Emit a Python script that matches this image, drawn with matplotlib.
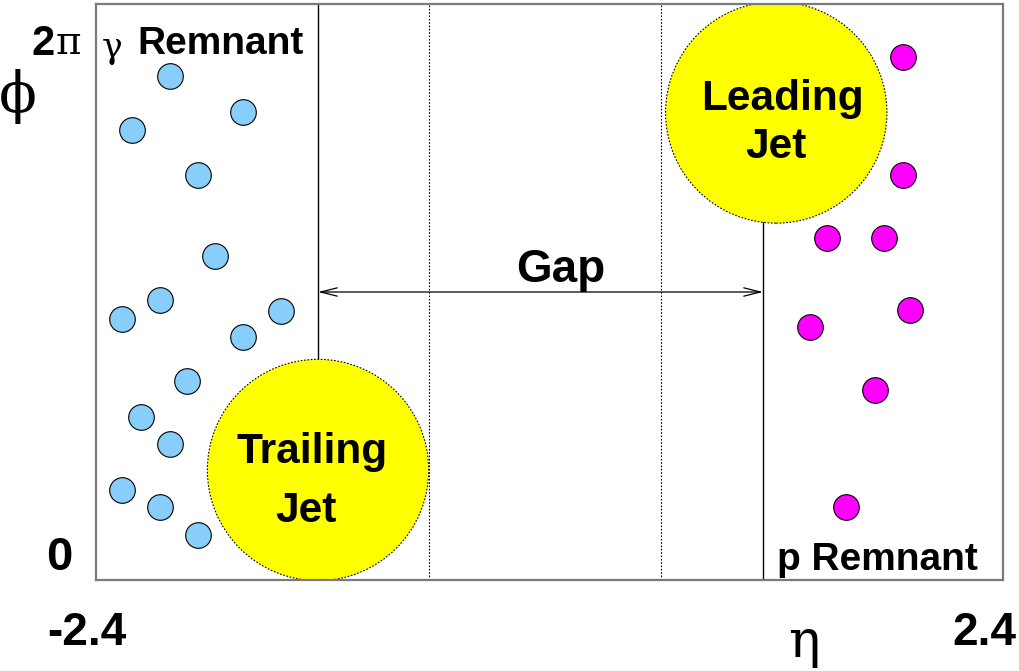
import numpy as np
import matplotlib
matplotlib.use("Agg")
import matplotlib.pyplot as plt

# ---- data (eta, phi) ----
gamma_eta = [-2.01, -1.62, -2.21, -1.86, -1.77, -2.06, -1.42, -2.26, -1.62, -1.92, -2.16, -2.01, -2.26, -2.06, -1.86]
gamma_phi = [5.50, 5.10, 4.91, 4.42, 3.53, 3.05, 2.93, 2.85, 2.65, 2.17, 1.78, 1.48, 0.98, 0.80, 0.49]
p_eta = [1.87, 1.87, 1.47, 1.77, 1.91, 1.38, 1.72, 1.57]
p_phi = [5.71, 4.42, 3.73, 3.73, 2.95, 2.76, 2.07, 0.80]
jet_labels = [["Trailing", "Jet"], ["Leading", "Jet"]]
jet_eta = [-1.225, 1.20]
jet_phi = [1.20, 5.10]
gap_edges = [-1.225, 1.13]
dotted_eta = [-0.64, 0.59]
eta_range = [-2.4, 2.4]
phi_range = [0, 2 * np.pi]

W, H = 1019, 671
fig = plt.figure(figsize=(W / 100, H / 100), dpi=100)
ax = fig.add_axes([96 / W, 1 - 580 / H, 907 / W, 576 / H])
ax.set_xlim(*eta_range)
ax.set_ylim(*phi_range)
ax.set_xticks([])
ax.set_yticks([])
for s in ax.spines.values():
    s.set_color("#7a7a7a")
    s.set_linewidth(1.6)

# dotted lines
for e in dotted_eta:
    ax.plot([e, e], phi_range, color="black", lw=0.8, ls=(0, (1.5, 1.5)), zorder=1)

# solid gap boundaries
ax.plot([gap_edges[0], gap_edges[0]], [2.40, phi_range[1]], color="black", lw=1.0, zorder=1)
ax.plot([gap_edges[1], gap_edges[1]], [phi_range[0], 3.93], color="black", lw=1.0, zorder=1)

# gap arrow
ax.annotate("", xy=(gap_edges[0], np.pi), xytext=(gap_edges[1], np.pi),
            arrowprops=dict(arrowstyle="<->,head_length=1.2,head_width=0.3", lw=0.9, color="black",
                            shrinkA=0, shrinkB=0))

# jets
ax.scatter(jet_eta, jet_phi, s=25400, c="#ffff00", edgecolors="black", linewidths=0.8,
           linestyles=(0, (1.5, 1.5)), zorder=2)

# particles
ax.scatter(gamma_eta, gamma_phi, s=340, c="#87cefa", edgecolors="black", linewidths=0.8, zorder=3)
ax.scatter(p_eta, p_phi, s=340, c="#ff00ff", edgecolors="black", linewidths=0.8, zorder=3)

def ft(x, y, s, **kw):
    fig.text(x / W, 1 - y / H, s, **kw)

bold = dict(family="Liberation Sans", fontweight="bold")
serif = dict(family="DejaVu Serif")

# jet labels (line baselines in pixels)
jet_line_pos = [[(312, 463), (306, 522)], [(782, 110), (776, 158)]]
for lines, poss in zip(jet_labels, jet_line_pos):
    for txt, (x, y) in zip(lines, poss):
        ft(x, y, txt, ha="center", va="baseline", fontsize=30.5, zorder=5, **bold)

ft(561, 282, "Gap", ha="center", va="baseline", fontsize=33, **bold)

ft(112, 48, "γ", ha="center", va="center", fontsize=25, **serif)
ft(137, 54, "Remnant", ha="left", va="baseline", fontsize=28, **bold)
ft(978, 570, "p Remnant", ha="right", va="baseline", fontsize=28, **bold)

ft(43, 55, "2", ha="center", va="baseline", fontsize=30, **bold)
ft(68, 43, "π", ha="center", va="center", fontsize=28, **serif)
ft(18, 97, "ϕ", ha="center", va="center", fontsize=40, **serif)
ft(59, 570, "0", ha="center", va="baseline", fontsize=34, **bold)
ft(87, 645, "-2.4", ha="center", va="baseline", fontsize=33, **bold)
ft(984, 645, "2.4", ha="center", va="baseline", fontsize=33, **bold)
ft(804, 643, "η", ha="center", va="center", fontsize=38, **serif)

fig.savefig("out.png", dpi=100)
